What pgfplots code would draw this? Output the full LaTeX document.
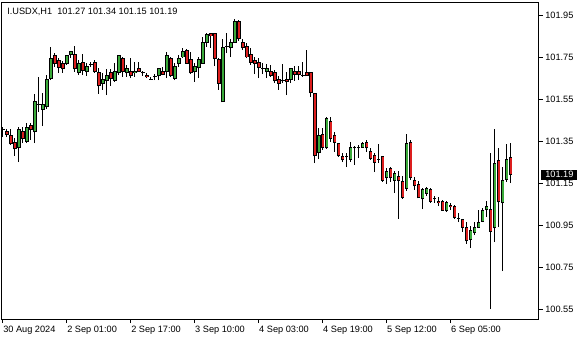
\documentclass[border=0pt]{standalone}
\usepackage{fontspec}
\setmainfont{Liberation Sans}
\usepackage{pgfplots}
\usepackage{pgfplotstable}
\pgfplotsset{compat=1.18}
\definecolor{bullc}{RGB}{58,170,58}
\definecolor{bearc}{RGB}{220,30,30}
\newcommand{\lf}{\fontsize{6.9}{8}\selectfont}
% x = bar index, o h l c = open high low close
\pgfplotstableread{
x o h l c
5 101.321 101.417 101.250 101.407
7 101.350 101.436 101.340 101.412
9 101.393 101.574 101.340 101.536
11 101.502 101.579 101.421 101.526
12 101.512 101.664 101.502 101.645
13 101.650 101.798 101.640 101.745
17 101.717 101.760 101.712 101.755
18 101.760 101.779 101.745 101.774
20 101.674 101.736 101.664 101.717
22 101.679 101.721 101.660 101.707
26 101.626 101.674 101.593 101.645
27 101.636 101.693 101.569 101.664
29 101.640 101.721 101.631 101.679
30 101.674 101.760 101.664 101.755
32 101.674 101.712 101.655 101.693
34 101.674 101.726 101.655 101.683
40 101.660 101.693 101.640 101.693
42 101.679 101.774 101.650 101.755
44 101.650 101.721 101.640 101.707
45 101.717 101.760 101.702 101.745
46 101.750 101.793 101.745 101.774
49 101.679 101.721 101.631 101.707
50 101.698 101.750 101.650 101.736
51 101.721 101.845 101.717 101.817
52 101.821 101.864 101.798 101.855
56 101.536 101.836 101.536 101.793
58 101.793 101.836 101.750 101.817
59 101.821 101.931 101.817 101.917
67 101.679 101.717 101.650 101.693
73 101.645 101.698 101.626 101.693
80 101.293 101.412 101.264 101.374
82 101.317 101.464 101.312 101.455
88 101.264 101.345 101.250 101.317
91 101.321 101.345 101.317 101.336
97 101.174 101.221 101.145 101.207
99 101.164 101.207 101.102 101.193
102 101.126 101.383 101.112 101.336
106 101.074 101.126 101.026 101.117
107 101.102 101.131 101.088 101.126
112 101.017 101.064 101.012 101.055
118 100.883 100.945 100.840 100.926
119 100.912 100.964 100.902 100.936
120 100.940 101.021 100.936 100.964
121 100.969 101.031 100.964 101.017
122 101.026 101.064 100.988 101.036
124 100.936 101.407 100.869 101.245
126 101.055 101.226 100.731 101.164
127 101.169 101.336 101.155 101.264
}\bulltab
\pgfplotstableread{
x o h l c
2 101.393 101.407 101.369 101.383
3 101.374 101.407 101.331 101.336
4 101.345 101.364 101.279 101.312
6 101.393 101.417 101.340 101.360
8 101.426 101.436 101.355 101.407
14 101.755 101.769 101.702 101.721
15 101.731 101.745 101.674 101.702
16 101.717 101.731 101.674 101.693
19 101.764 101.802 101.679 101.693
21 101.726 101.764 101.664 101.688
24 101.726 101.736 101.674 101.679
25 101.674 101.698 101.574 101.612
28 101.674 101.693 101.612 101.650
31 101.745 101.750 101.655 101.679
33 101.683 101.745 101.650 101.660
35 101.693 101.726 101.679 101.679
37 101.664 101.674 101.650 101.655
41 101.683 101.702 101.664 101.669
43 101.745 101.750 101.655 101.660
47 101.783 101.788 101.717 101.721
48 101.736 101.774 101.669 101.674
53 101.864 101.864 101.793 101.850
54 101.864 101.864 101.707 101.745
55 101.736 101.745 101.593 101.626
60 101.921 101.926 101.826 101.836
61 101.821 101.836 101.783 101.793
62 101.798 101.817 101.745 101.750
63 101.764 101.793 101.712 101.726
64 101.731 101.750 101.669 101.717
65 101.726 101.745 101.650 101.702
68 101.679 101.712 101.655 101.660
69 101.674 101.688 101.626 101.636
70 101.645 101.660 101.593 101.626
72 101.645 101.679 101.569 101.631
74 101.683 101.707 101.636 101.669
75 101.683 101.707 101.640 101.669
77 101.674 101.783 101.660 101.660
78 101.674 101.679 101.560 101.579
79 101.574 101.574 101.245 101.279
81 101.383 101.412 101.307 101.321
83 101.445 101.464 101.345 101.364
84 101.374 101.393 101.298 101.345
85 101.336 101.340 101.274 101.279
86 101.274 101.293 101.250 101.260
92 101.345 101.355 101.298 101.317
93 101.302 101.317 101.260 101.269
94 101.279 101.293 101.202 101.250
96 101.274 101.279 101.155 101.164
98 101.221 101.226 101.155 101.174
100 101.183 101.207 100.979 101.164
101 101.155 101.183 101.074 101.083
103 101.345 101.355 101.164 101.174
104 101.164 101.179 101.117 101.136
105 101.145 101.160 101.079 101.079
108 101.117 101.126 101.055 101.064
110 101.064 101.083 101.040 101.055
111 101.064 101.069 101.017 101.021
113 101.045 101.055 101.021 101.036
114 101.040 101.045 100.979 100.988
116 100.974 100.979 100.917 100.940
117 100.936 100.964 100.860 100.874
123 101.026 101.293 100.550 100.921
125 101.255 101.317 100.940 101.060
128 101.270 101.340 101.150 101.190
}\beartab
\pgfplotstableread{
x o h l c
1 101.407 101.417 101.369 101.407
10 101.526 101.655 101.488 101.526
23 101.712 101.726 101.702 101.712
36 101.674 101.683 101.660 101.674
38 101.645 101.655 101.645 101.645
39 101.655 101.669 101.640 101.655
57 101.802 101.864 101.769 101.802
66 101.693 101.721 101.669 101.693
71 101.636 101.717 101.626 101.636
76 101.664 101.726 101.655 101.664
87 101.274 101.293 101.226 101.274
89 101.317 101.326 101.236 101.317
90 101.321 101.331 101.269 101.321
95 101.264 101.336 101.245 101.264
109 101.074 101.088 101.055 101.074
115 100.983 101.007 100.964 100.983
}\dojitab
\pgfplotsset{
  candle/.style={draw=none, mark=none,
    error bars/.cd, y dir=plus, y explicit, error mark=none,
    error bar style={#1}},
}
\begin{document}
\begin{tikzpicture}
\useasboundingbox (-1.5pt,-15.75pt) rectangle (433.5pt,239.25pt);
\begin{axis}[
  scale only axis, width=402.4pt, height=237.75pt,
  xmin=0.75, xmax=134.9, ymin=100.5024, ymax=102.0119,
  axis line style={line width=0.75pt, black},
  tick align=outside, major tick length=3pt,
  tick style={line width=0.75pt, black},
  xtick pos=left, ytick pos=right, yticklabel pos=right,
  xtick={1,17,33,49,65,81,97,113},
  xticklabels={30 Aug 2024,2 Sep 01:00,2 Sep 17:00,3 Sep 10:00,4 Sep 03:00,4 Sep 19:00,5 Sep 12:00,6 Sep 05:00},
  ytick={100.55,100.75,100.95,101.15,101.35,101.55,101.75,101.95},
  yticklabels={100.55,100.75,100.95,101.15,101.35,101.55,101.75,101.95},
  scaled y ticks=false,
  ticklabel style={font=\lf, inner sep=0pt, text=black},
  xticklabel style={anchor=north west, xshift=0pt, yshift=-2.25pt},
  yticklabel style={anchor=west, xshift=1.9pt},
  clip=true,
]
% wicks
\addplot[candle={draw=black, line width=0.75pt}] table[x=x, y=l, y error plus expr=\thisrow{h}-\thisrow{l}] {\bulltab};
\addplot[candle={draw=black, line width=0.75pt}] table[x=x, y=l, y error plus expr=\thisrow{h}-\thisrow{l}] {\beartab};
\addplot[candle={draw=black, line width=0.75pt}] table[x=x, y=l, y error plus expr=\thisrow{h}-\thisrow{l}] {\dojitab};
% body outlines
\addplot[candle={draw=black, line width=2.3pt}] table[x=x, y expr=\thisrow{o}-0.00238, y error plus expr=\thisrow{c}-\thisrow{o}+0.00476] {\bulltab};
\addplot[candle={draw=black, line width=2.3pt}] table[x=x, y expr=\thisrow{c}-0.00238, y error plus expr=\thisrow{o}-\thisrow{c}+0.00476] {\beartab};
\addplot[candle={draw=black, line width=2.3pt}] table[x=x, y expr=\thisrow{c}-0.00238, y error plus expr=0.00476] {\dojitab};
% body fills
\addplot[candle={draw=bullc, line width=0.9pt}] table[x=x, y expr=\thisrow{o}+0.00238, y error plus expr=\thisrow{c}-\thisrow{o}-0.00476] {\bulltab};
\addplot[candle={draw=bearc, line width=0.9pt}] table[x=x, y expr=\thisrow{c}+0.00238, y error plus expr=\thisrow{o}-\thisrow{c}-0.00476] {\beartab};
\node[anchor=base west, font=\lf, inner sep=0pt, text=black] at (axis description cs:0,1) [xshift=3.75pt, yshift=-9pt] {I.USDX,H1\hspace{0.55em}101.27 101.34 101.15 101.19};
\coordinate (pricept) at (axis cs:134.9,101.19);
\end{axis}
\node[anchor=west, fill=black, text=white, font=\lf, inner xsep=2.95pt, inner ysep=0pt, minimum height=7.5pt] at ([xshift=1.9pt]pricept) {101.19};
\end{tikzpicture}
\end{document}
